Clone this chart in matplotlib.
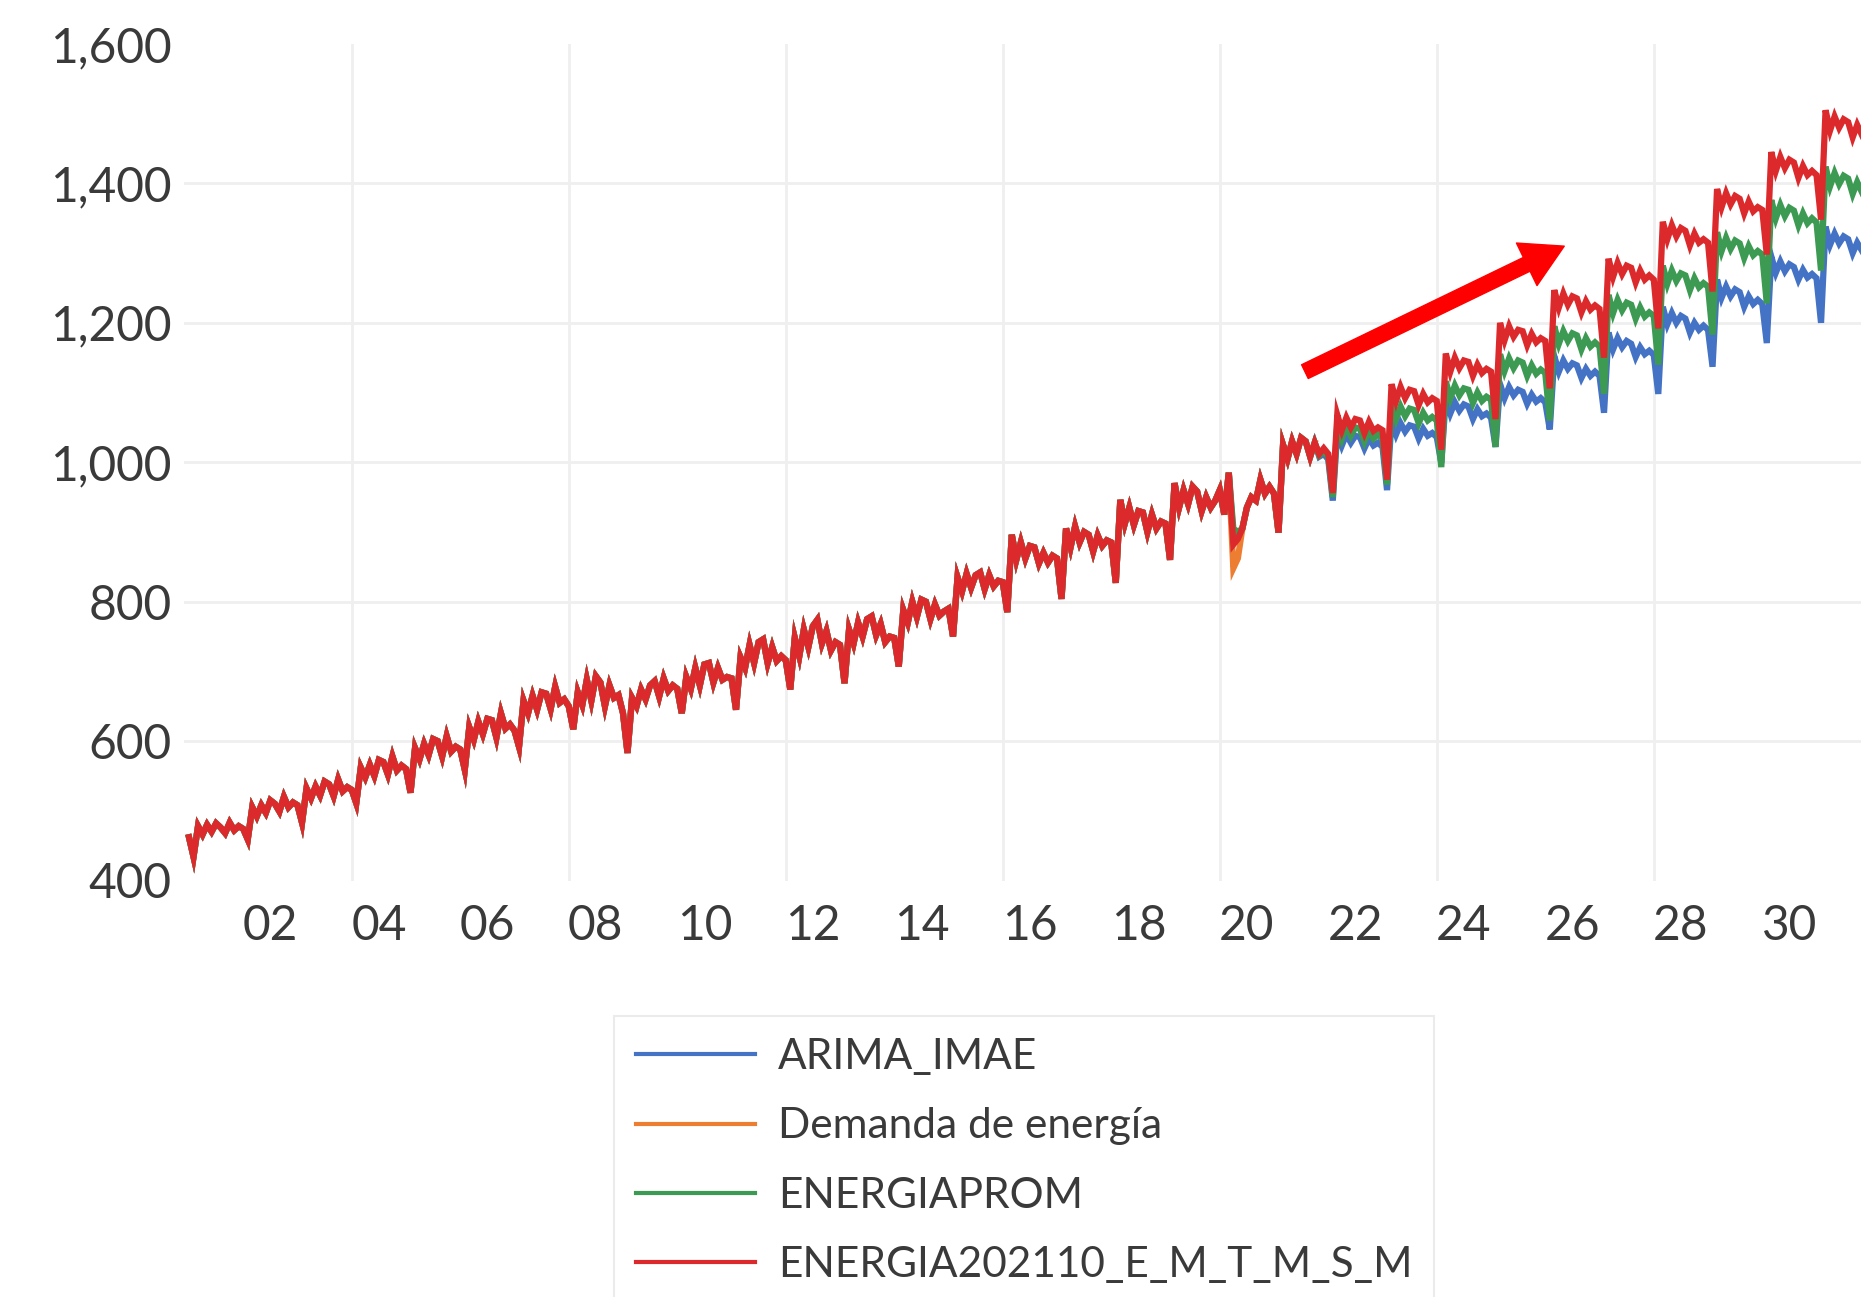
import numpy as np
import matplotlib
matplotlib.use('Agg')
import matplotlib.pyplot as plt
from matplotlib.ticker import FuncFormatter

plt.rcParams['font.family'] = ['Lato', 'DejaVu Sans']

# monthly history, Jan..Dec, 2001-2020, then 2021 Jan..Oct
history = [
    [462, 434, 478, 466, 480, 470, 482, 476, 468, 483, 472, 478],   # 2001
    [474, 459, 505, 492, 508, 497, 515, 510, 499, 520, 505, 512],   # 2002
    [508, 483, 532, 518, 535, 522, 542, 538, 521, 545, 528, 534],   # 2003
    [530, 511, 562, 548, 566, 550, 573, 570, 552, 578, 558, 565],   # 2004
    [560, 526, 590, 574, 596, 580, 603, 600, 578, 607, 585, 592],   # 2005
    [588, 559, 620, 602, 628, 610, 632, 630, 605, 640, 618, 624],   # 2006
    [615, 592, 658, 640, 665, 645, 670, 668, 646, 678, 655, 660],   # 2007
    [650, 617, 670, 652, 688, 658, 693, 684, 650, 680, 662, 666],   # 2008
    [640, 583, 662, 650, 674, 660, 680, 686, 664, 690, 672, 680],   # 2009
    [675, 640, 692, 675, 705, 680, 710, 712, 684, 705, 688, 692],   # 2010
    [690, 645, 720, 705, 738, 712, 742, 746, 712, 735, 715, 722],   # 2011
    [716, 674, 748, 722, 760, 735, 765, 774, 740, 758, 730, 742],   # 2012
    [738, 683, 760, 740, 770, 750, 775, 779, 752, 768, 742, 750],   # 2013
    [748, 707, 788, 770, 800, 778, 803, 800, 775, 796, 780, 786],   # 2014
    [790, 750, 835, 815, 840, 820, 838, 842, 818, 838, 822, 830],   # 2015
    [828, 785, 896, 860, 885, 862, 880, 878, 855, 870, 856, 866],   # 2016
    [862, 804, 905, 878, 908, 885, 900, 896, 872, 895, 880, 888],   # 2017
    [885, 827, 946, 912, 935, 910, 930, 928, 900, 925, 905, 915],   # 2018
    [912, 860, 970, 935, 960, 940, 965, 958, 930, 950, 935, 945],   # 2019
    [960, 925, 985, 848, 862, 905, 935, 950, 945, 975, 955, 965],   # 2020
    [955, 899, 1025, 1005, 1030, 1012, 1035, 1030, 1008, 1028],     # 2021
]

# fitted values of the models in Apr-May 2020 (differ from actual)
covid_fit_red = [882, 890]
covid_fit_green = [905, 900]
covid_fit_blue = [895, 895]

# forecasts: Nov-Dec 2021, then Jan..Dec 2022-2031
red_fc = [
    [1012, 1020],
    [1012, 956, 1068, 1046, 1064, 1050, 1062, 1060, 1042, 1058, 1045, 1050],
    [1046, 975, 1112, 1088, 1108, 1092, 1104, 1102, 1082, 1098, 1086, 1092],
    [1088, 1018, 1156, 1130, 1150, 1135, 1146, 1144, 1124, 1140, 1128, 1134],
    [1130, 1062, 1200, 1175, 1195, 1180, 1190, 1188, 1168, 1184, 1172, 1178],
    [1174, 1106, 1247, 1222, 1242, 1226, 1238, 1235, 1215, 1231, 1219, 1225],
    [1220, 1150, 1292, 1266, 1286, 1270, 1282, 1279, 1258, 1275, 1262, 1268],
    [1262, 1192, 1345, 1320, 1340, 1324, 1336, 1332, 1311, 1328, 1315, 1320],
    [1315, 1245, 1392, 1366, 1386, 1370, 1382, 1378, 1357, 1374, 1360, 1366],
    [1362, 1298, 1445, 1418, 1438, 1422, 1434, 1430, 1408, 1425, 1412, 1418],
    [1412, 1348, 1505, 1476, 1496, 1480, 1492, 1488, 1466, 1484, 1470, 1476],
]
green_fc = [
    [1010, 1016],
    [1008, 950, 1055, 1034, 1052, 1038, 1050, 1048, 1030, 1046, 1034, 1040],
    [1034, 968, 1085, 1062, 1080, 1066, 1077, 1075, 1056, 1071, 1060, 1065],
    [1060, 993, 1116, 1092, 1110, 1096, 1106, 1104, 1085, 1100, 1088, 1094],
    [1090, 1022, 1155, 1131, 1149, 1135, 1146, 1143, 1124, 1139, 1127, 1133],
    [1128, 1060, 1195, 1170, 1188, 1174, 1185, 1182, 1162, 1178, 1166, 1172],
    [1166, 1098, 1240, 1214, 1233, 1218, 1229, 1226, 1206, 1222, 1209, 1215],
    [1210, 1140, 1282, 1256, 1275, 1260, 1271, 1268, 1247, 1264, 1251, 1257],
    [1252, 1183, 1330, 1303, 1322, 1306, 1318, 1314, 1293, 1310, 1297, 1303],
    [1298, 1228, 1376, 1350, 1369, 1353, 1365, 1361, 1340, 1357, 1343, 1350],
    [1344, 1275, 1424, 1396, 1415, 1399, 1411, 1407, 1385, 1402, 1388, 1395],
]
blue_fc = [
    [1008, 1012],
    [1004, 945, 1044, 1024, 1040, 1028, 1038, 1036, 1020, 1034, 1024, 1028],
    [1022, 960, 1060, 1040, 1056, 1044, 1053, 1051, 1034, 1048, 1038, 1042],
    [1036, 999, 1092, 1070, 1086, 1074, 1083, 1080, 1062, 1076, 1066, 1070],
    [1064, 1022, 1112, 1092, 1108, 1096, 1104, 1101, 1084, 1097, 1087, 1092],
    [1086, 1047, 1152, 1130, 1146, 1134, 1142, 1139, 1121, 1134, 1124, 1130],
    [1124, 1071, 1186, 1162, 1178, 1165, 1174, 1170, 1151, 1165, 1155, 1160],
    [1154, 1098, 1223, 1198, 1214, 1200, 1210, 1206, 1186, 1200, 1190, 1196],
    [1190, 1137, 1262, 1236, 1252, 1238, 1248, 1244, 1223, 1238, 1227, 1233],
    [1227, 1171, 1295, 1272, 1288, 1274, 1284, 1280, 1262, 1276, 1265, 1270],
    [1264, 1200, 1338, 1312, 1328, 1314, 1324, 1320, 1300, 1315, 1304, 1310],
]

labels = ['ARIMA_IMAE', 'Demanda de energía', 'ENERGIAPROM', 'ENERGIA202110_E_M_T_M_S_M']
colors = ['#4472c4', '#ed7d31', '#3c9a52', '#dc2a2c']


def flat(rows):
    return [v for r in rows for v in r]


actual = flat(history)
covid_idx = 19 * 12 + 3  # Apr 2020


def fitted(covid_vals, fc_rows):
    s = list(actual)
    s[covid_idx:covid_idx + 2] = covid_vals
    return s + flat(fc_rows)


series = [
    fitted(covid_fit_blue, blue_fc),
    actual,
    fitted(covid_fit_green, green_fc),
    fitted(covid_fit_red, red_fc),
]

fig = plt.figure(figsize=(18.61, 12.97), dpi=100)
ax = fig.add_axes([184 / 1861, 1 - 880.5 / 1297, 1 - 184 / 1861, 836.5 / 1297])

for s, c, lab in zip(series, colors, labels):
    t = 2001 + np.arange(len(s)) / 12
    ax.plot(t, s, color=c, lw=4.5, label=lab, solid_joinstyle='miter')

# arrow
ax.annotate('', xy=(2026.35, 1310), xytext=(2021.57, 1130),
            arrowprops=dict(arrowstyle='simple,head_length=1.5,head_width=1.7,tail_width=0.55',
                            color='#ff0000', mutation_scale=20, shrinkA=0, shrinkB=0))

ax.set_xlim(2000.908, 2031.82)
ax.set_ylim(400, 1600)

ax.set_xticks(np.arange(2004, 2029, 4))
ax.set_xticklabels([])
ax.set_xticks(np.arange(2002, 2031, 2) + 0.5, minor=True)
ax.set_xticklabels(['%02d' % (y % 100) for y in range(2002, 2031, 2)], minor=True)
ax.set_yticks(np.arange(400, 1601, 200))
ax.yaxis.set_major_formatter(FuncFormatter(lambda v, p: '{:,.0f}'.format(v)))

ax.tick_params(which='both', length=0, colors='#3a3a3a')
ax.tick_params(axis='x', which='minor', labelsize=34.5, pad=17)
ax.tick_params(axis='y', labelsize=34.5, pad=9)

ax.grid(True, which='major', color='#efefef', lw=2)
ax.set_axisbelow(True)
yg = ax.get_ygridlines()
yg[0].set_visible(False)
yg[-1].set_visible(False)
for sp in ax.spines.values():
    sp.set_visible(False)

leg = fig.legend(loc='upper left', bbox_to_anchor=(614 / 1861, 1 - 1016 / 1297),
                 fontsize=30.5, frameon=True, fancybox=False, edgecolor='#e6e6e6',
                 handlelength=2.8, handletextpad=0.55, labelspacing=0.74,
                 borderpad=0.52, borderaxespad=0)
leg.get_frame().set_linewidth(1.5)
for ln in leg.get_lines():
    ln.set_linewidth(3)
for tx in leg.get_texts():
    tx.set_color('#3a3a3a')

fig.savefig('out.png', dpi=100)
